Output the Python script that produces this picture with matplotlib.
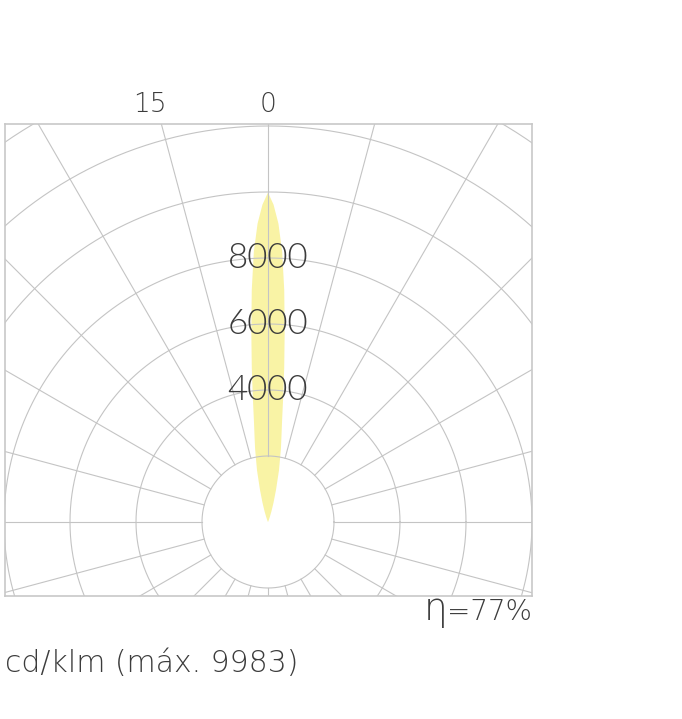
import numpy as np
import matplotlib
matplotlib.use("Agg")
from matplotlib import pyplot as plt

# curva fotometrica (cd/klm) en funcion del angulo desde la vertical
angles = [0, 1, 2, 3, 4, 5, 6, 7, 8, 9, 10, 12, 14, 16, 18, 20, 25, 30]
intensity = [9983, 9620, 9050, 8200, 7050, 5800, 4700, 3750, 3050, 2600,
             2250, 1600, 1000, 600, 330, 150, 30, 0]

ring_values = [2000, 4000, 6000, 8000, 10000, 12000, 14000, 16000]
ring_labels = [4000, 6000, 8000]
angle_labels = [(0, "0"), (15, "15")]
efficiency = "=77%"
unit_text = "cd/klm (máx. 9983)"

W, H = 682, 719
cx, cy = 268, 522          # centro del diagrama en pixeles
k = 1000 / 33.0            # cd por pixel

fig = plt.figure(figsize=(W / 100, H / 100), dpi=100)
ax = fig.add_axes([5 / W, 1 - 596 / H, 527 / W, 472 / H])
ax.set_xlim(-(cx - 5) * k, (532 - cx) * k)
ax.set_ylim(-(596 - cy) * k, (cy - 124) * k)
ax.set_xticks([])
ax.set_yticks([])
for s in ax.spines.values():
    s.set_color('#c8c8c8')
    s.set_linewidth(1.2)

grid_c = '#c4c4c4'

# haz de luz
a = np.radians(np.array(angles, dtype=float))
I = np.array(intensity, dtype=float)
xs = np.concatenate([-(I * np.sin(a))[::-1], I * np.sin(a)])
ys = np.concatenate([(I * np.cos(a))[::-1], I * np.cos(a)])
ax.fill(xs, ys, color='#f9f3a5', lw=0, zorder=1)

# circulos
t = np.linspace(0, 2 * np.pi, 721)
for r in ring_values:
    ax.plot(r * np.cos(t), r * np.sin(t), color=grid_c, lw=0.8, zorder=2)

# radios cada 15 grados
for d in range(0, 360, 15):
    th = np.radians(d)
    ax.plot([2000 * np.sin(th), 20000 * np.sin(th)],
            [2000 * np.cos(th), 20000 * np.cos(th)],
            color=grid_c, lw=0.8, zorder=2)

txt_c = '#3c3c3c'
thin = dict(family=['DejaVu Sans'], fontweight=200, color=txt_c)

for v in ring_labels:
    ax.text(0, v, str(v), ha='center', va='center', fontsize=25,
            family=['Lato', 'DejaVu Sans'], fontweight=300,
            color=txt_c, zorder=3)

for d, lab in angle_labels:
    x = -3575 if d else 0
    ax.text(x, (cy - 112) * k, lab, ha='center', va='baseline', fontsize=19,
            clip_on=False, **thin)

t1 = fig.text(532 / W, 1 - 620 / H, efficiency, ha='right', va='baseline',
              fontsize=20, **thin)
fig.canvas.draw()
bb = t1.get_window_extent(fig.canvas.get_renderer())
fig.text(bb.x0 / W, 1 - 620 / H, "η", ha='right', va='baseline',
         fontsize=27, **thin)

fig.text(5 / W, 1 - 672 / H, unit_text, ha='left', va='baseline',
         fontsize=21.5, **thin)

fig.savefig('out.png', dpi=100)
